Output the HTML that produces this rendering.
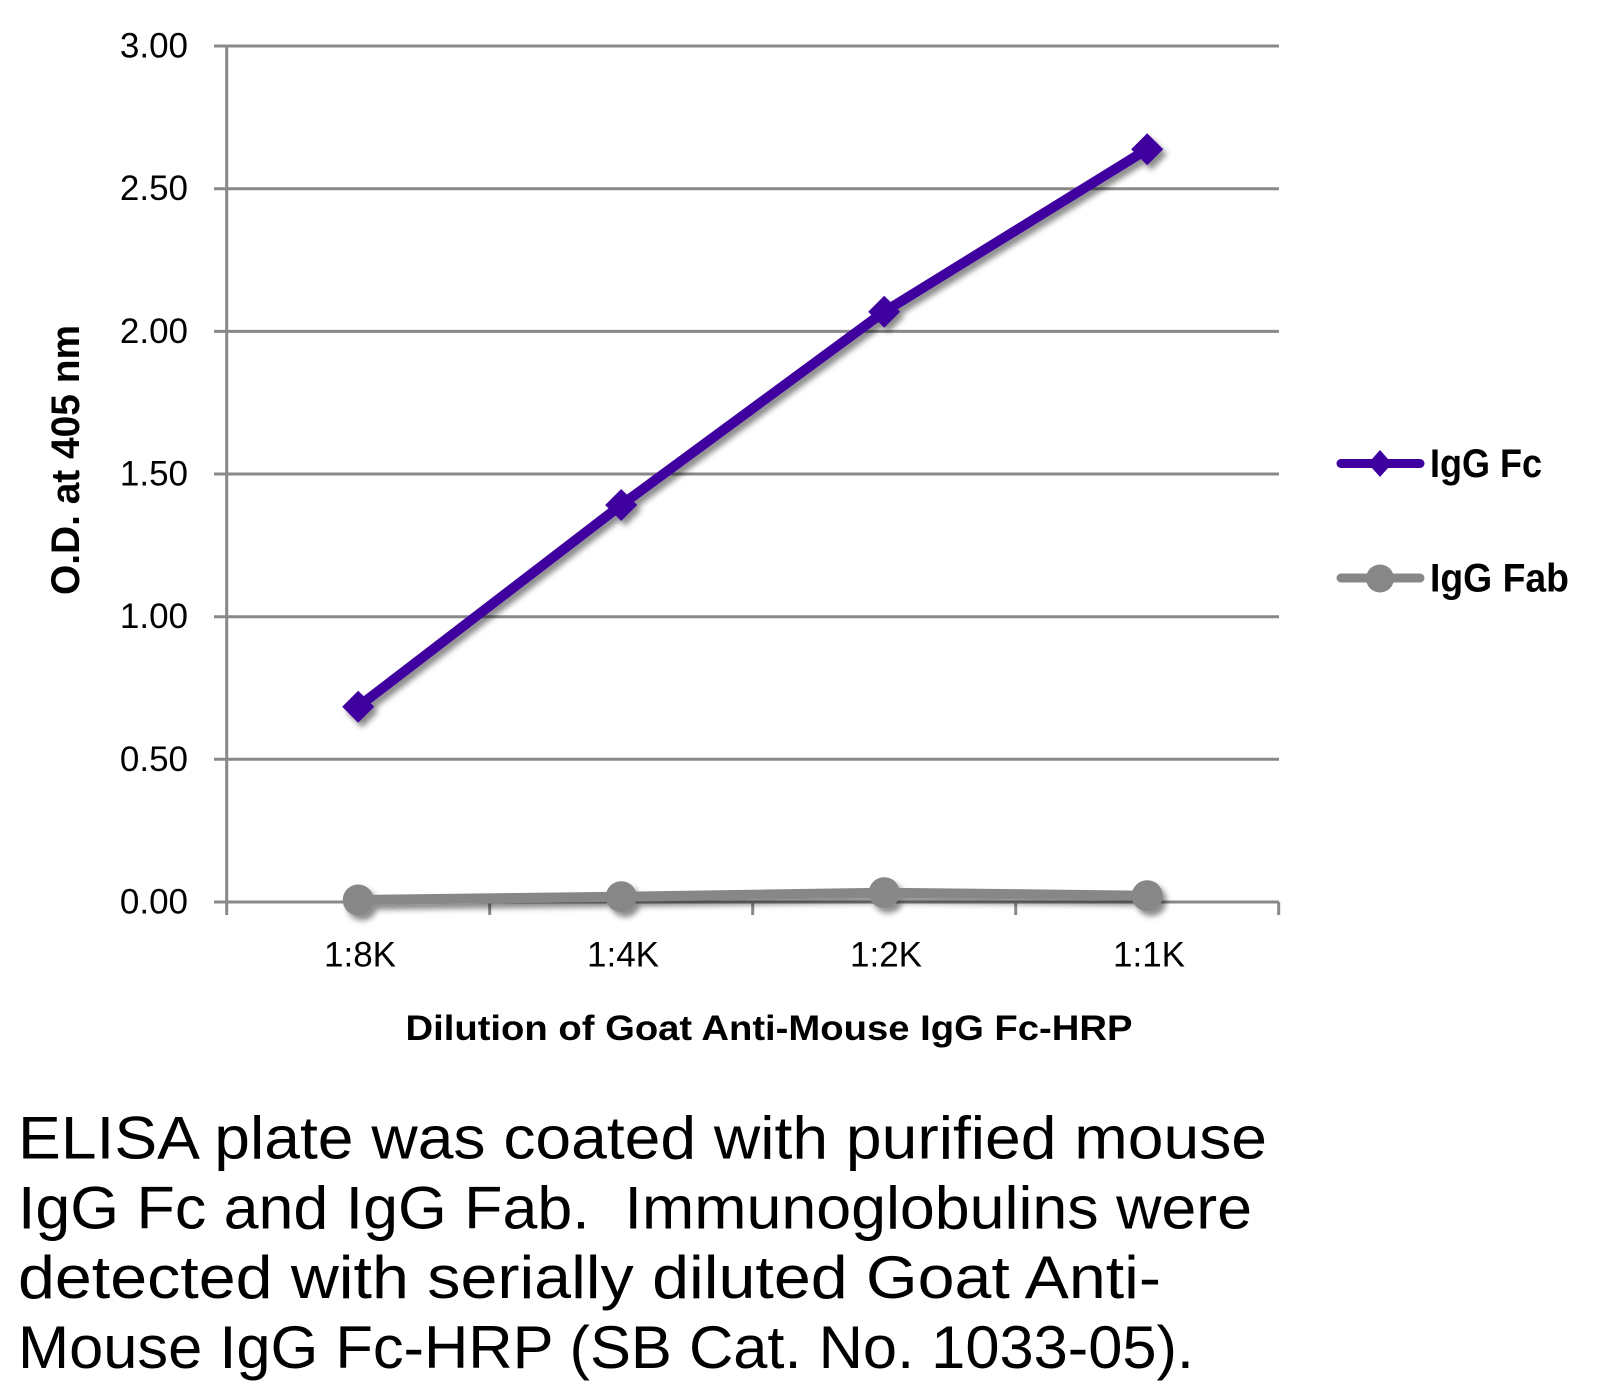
<!DOCTYPE html>
<html><head><meta charset="utf-8"><style>
html,body{margin:0;padding:0;background:#fff;}
svg{display:block;}
text{font-family:"Liberation Sans",Arial,sans-serif;fill:#000;}
</style></head><body>
<svg width="1605" height="1399" viewBox="0 0 1605 1399" xmlns="http://www.w3.org/2000/svg">
<defs>
<filter id="sh" x="-20%" y="-20%" width="140%" height="160%">
<feDropShadow dx="4" dy="5" stdDeviation="3" flood-color="#000" flood-opacity="0.45"/>
</filter>
</defs>
<rect width="1605" height="1399" fill="#fff"/>
<!-- gridlines -->
<g stroke="#898989" stroke-width="3">
<line x1="214" y1="46" x2="1279" y2="46"/>
<line x1="214" y1="188.7" x2="1279" y2="188.7"/>
<line x1="214" y1="331.4" x2="1279" y2="331.4"/>
<line x1="214" y1="474" x2="1279" y2="474"/>
<line x1="214" y1="616.7" x2="1279" y2="616.7"/>
<line x1="214" y1="759.3" x2="1279" y2="759.3"/>
<line x1="214" y1="902" x2="1279" y2="902"/>
<line x1="226.7" y1="46" x2="226.7" y2="915"/>
<line x1="489.7" y1="902" x2="489.7" y2="915"/>
<line x1="752.7" y1="902" x2="752.7" y2="915"/>
<line x1="1015.7" y1="902" x2="1015.7" y2="915"/>
<line x1="1278.7" y1="902" x2="1278.7" y2="915"/>
</g>
<!-- y tick labels -->
<g font-size="35" text-anchor="end">
<text x="188" y="57.5">3.00</text>
<text x="188" y="200.2">2.50</text>
<text x="188" y="342.9">2.00</text>
<text x="188" y="485.5">1.50</text>
<text x="188" y="628.2">1.00</text>
<text x="188" y="770.8">0.50</text>
<text x="188" y="913.5">0.00</text>
</g>
<!-- x tick labels -->
<g font-size="35" text-anchor="middle">
<text x="360" y="966.7">1:8K</text>
<text x="623" y="966.7">1:4K</text>
<text x="886" y="966.7">1:2K</text>
<text x="1149" y="966.7">1:1K</text>
</g>
<!-- axis titles -->
<text x="405.5" y="1040" font-size="35" font-weight="bold" textLength="727" lengthAdjust="spacingAndGlyphs">Dilution of Goat Anti-Mouse IgG Fc-HRP</text>
<text transform="translate(79,595) rotate(-90)" x="0" y="0" font-size="40" font-weight="bold" textLength="270" lengthAdjust="spacingAndGlyphs">O.D. at 405 nm</text>
<!-- Fab series -->
<g filter="url(#sh)" fill="#878787" stroke="none">
<polyline points="358.2,900 621.2,896.7 884.2,892.7 1147.2,895.7" fill="none" stroke="#878787" stroke-width="10" stroke-linejoin="round"/>
<circle cx="358.2" cy="900" r="15.5"/>
<circle cx="621.2" cy="896.7" r="15.5"/>
<circle cx="884.2" cy="892.7" r="15.5"/>
<circle cx="1147.2" cy="895.7" r="15.5"/>
</g>
<!-- Fc series -->
<g filter="url(#sh)" fill="#3f00a0">
<polyline points="358.2,706.7 621.2,505 884.2,311.7 1147.2,149.3" fill="none" stroke="#3f00a0" stroke-width="10" stroke-linejoin="round"/>
<polygon points="358.2,690.7 374.2,706.7 358.2,722.7 342.2,706.7"/>
<polygon points="621.2,489 637.2,505 621.2,521 605.2,505"/>
<polygon points="884.2,295.7 900.2,311.7 884.2,327.7 868.2,311.7"/>
<polygon points="1147.2,133.3 1163.2,149.3 1147.2,165.3 1131.2,149.3"/>
</g>
<!-- legend -->
<line x1="1341" y1="463.5" x2="1420" y2="463.5" stroke="#3f00a0" stroke-width="9" stroke-linecap="round"/>
<polygon points="1380,450 1392,463.5 1380,477 1368,463.5" fill="#3f00a0"/>
<text x="1430" y="477" font-size="40" font-weight="bold" textLength="112" lengthAdjust="spacingAndGlyphs">IgG Fc</text>
<line x1="1341" y1="578" x2="1420" y2="578" stroke="#878787" stroke-width="9" stroke-linecap="round"/>
<circle cx="1380" cy="578.5" r="14" fill="#878787"/>
<text x="1430" y="591.7" font-size="40" font-weight="bold" textLength="139" lengthAdjust="spacingAndGlyphs">IgG Fab</text>
<!-- caption -->
<g font-size="60">
<text x="18" y="1158.3" textLength="1249" lengthAdjust="spacingAndGlyphs">ELISA plate was coated with purified mouse</text>
<text x="18" y="1228.3" textLength="1234" lengthAdjust="spacingAndGlyphs" xml:space="preserve">IgG Fc and IgG Fab.  Immunoglobulins were</text>
<text x="18" y="1298" textLength="1143" lengthAdjust="spacingAndGlyphs">detected with serially diluted Goat Anti-</text>
<text x="18" y="1368" textLength="1176" lengthAdjust="spacingAndGlyphs">Mouse IgG Fc-HRP (SB Cat. No. 1033-05).</text>
</g>
</svg>
</body></html>
